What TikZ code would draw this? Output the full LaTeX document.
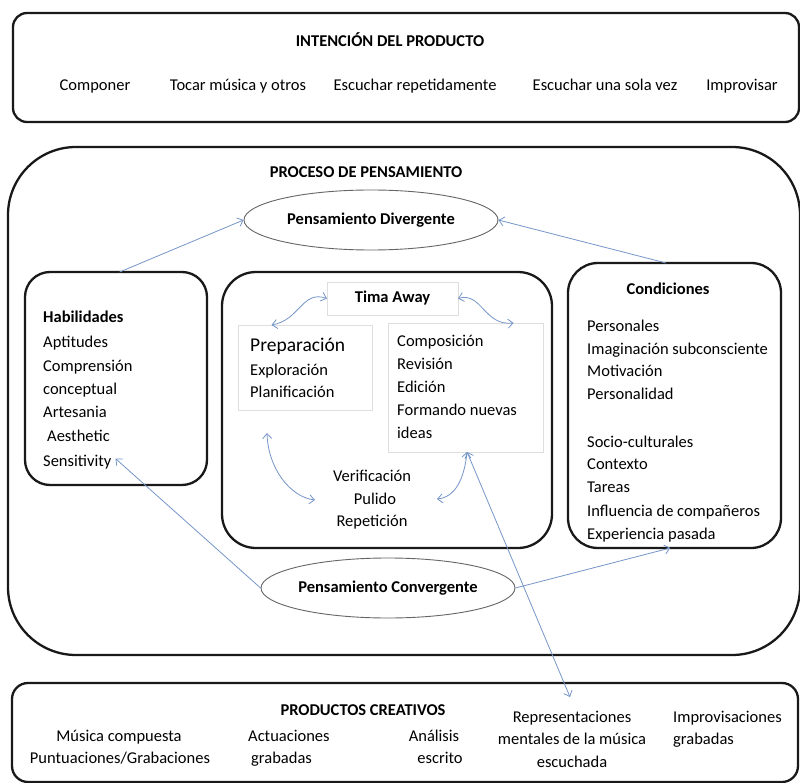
\documentclass[tikz,border=0pt]{standalone}
\usepackage{fontspec}
\setmainfont{Carlito}
\usetikzlibrary{arrows.meta,shapes.geometric,calc}
\definecolor{linkblue}{RGB}{118,150,200}
\definecolor{panelline}{RGB}{25,25,25}
\definecolor{thinbox}{RGB}{222,222,222}
\begin{document}
\begin{tikzpicture}[x=1pt,y=-1pt,
  panel/.style={draw=panelline, line width=2.3pt, rounded corners=#1, fill=white,
                inner sep=0pt, outer sep=0pt, anchor=north west},
  subbox/.style={draw=thinbox, line width=0.9pt, inner sep=0pt, outer sep=0pt, anchor=north west},
  body/.style={font=\fontsize{16.5}{23}\selectfont, inner sep=0pt},
  head/.style={font=\bfseries\fontsize{16.5}{23}\selectfont, inner sep=0pt},
  oval/.style={ellipse, draw=black!60, line width=0.9pt, fill=white, inner sep=0pt,
               minimum width=254pt, minimum height=60pt, font=\bfseries\fontsize{16.5}{23}\selectfont},
  link/.style={draw=linkblue, line width=0.8pt},
  onehead/.style={-{Straight Barb[length=5pt,width=9pt]}},
  twohead/.style={{Straight Barb[length=5pt,width=9pt]}-{Straight Barb[length=5pt,width=9pt]}}]

\useasboundingbox (0,0) rectangle (800,783);

% ---------- top band: product intention ----------
\node[panel=14pt, minimum width=786pt, minimum height=109pt] (intent) at (13,13) {};
\node[head, anchor=base] (intentT) at (390,47) {INTENCIÓN DEL PRODUCTO};
\node[body, anchor=base] (i1) at (95,91) {Componer};
\node[body, anchor=base] (i2) at (238,91) {Tocar música y otros};
\node[body, anchor=base] (i3) at (415,91) {Escuchar repetidamente};
\node[body, anchor=base] (i4) at (605,91) {Escuchar una sola vez};
\node[body, anchor=base] (i5) at (742,91) {Improvisar};

% ---------- middle band: thinking process ----------
\node[panel=68pt, minimum width=792pt, minimum height=508pt] (proc) at (8,147) {};
\node[head, anchor=base] (procT) at (366,178) {PROCESO DE PENSAMIENTO};

\node[panel=25pt, minimum width=182pt, minimum height=213pt] (hab) at (25,272) {};
\node[panel=34pt, minimum width=330pt, minimum height=276pt] (ctr) at (222,272) {};
\node[panel=30pt, minimum width=213pt, minimum height=285pt] (cond) at (568,263) {};

\node[oval] (div) at (371,220) {Pensamiento Divergente};
\node[oval] (conv) at (388,588) {Pensamiento Convergente};

% skills
\node[head, anchor=base west] (habT) at (43,323) {Habilidades};
\node[body, anchor=base west] (h1) at (43,348) {Aptitudes};
\node[body, anchor=base west] (h2) at (43,371) {Comprensión};
\node[body, anchor=base west] (h3) at (43,394) {conceptual};
\node[body, anchor=base west] (h4) at (43,417) {Artesania};
\node[body, anchor=base west] (h5) at (47,441) {Aesthetic};
\node[body, anchor=base west] (sens) at (43,466) {Sensitivity};

% stages of the creative process
\node[subbox, minimum width=131pt, minimum height=33pt, font=\bfseries\fontsize{16.5}{23}\selectfont] (tima) at (327,282) {Tima Away};
\node[subbox, minimum width=134pt, minimum height=85pt] (prep) at (238,325) {};
\node[subbox, minimum width=155pt, minimum height=129pt] (comp) at (388,323) {};

\node[body, anchor=base west, font=\fontsize{19.5}{23}\selectfont] (p1) at (250,352) {Preparación};
\node[body, anchor=base west] (p2) at (250,375) {Exploración};
\node[body, anchor=base west] (p3) at (250,397) {Planificación};

\node[body, anchor=base west] (c1) at (397,346) {Composición};
\node[body, anchor=base west] (c2) at (397,369) {Revisión};
\node[body, anchor=base west] (c3) at (397,392) {Edición};
\node[body, anchor=base west] (c4) at (397,415) {Formando nuevas};
\node[body, anchor=base west] (c5) at (397,438) {ideas};

\node[body, anchor=base] (v1) at (372,481) {Verificación};
\node[body, anchor=base] (v2) at (375,504) {Pulido};
\node[body, anchor=base] (v3) at (372,526) {Repetición};

% conditions
\node[head, anchor=base] (condT) at (668,295) {Condiciones};
\node[body, anchor=base west] (k1) at (587,331) {Personales};
\node[body, anchor=base west] (k2) at (587,354) {Imaginación subconsciente};
\node[body, anchor=base west] (k3) at (587,376) {Motivación};
\node[body, anchor=base west] (k4) at (587,399) {Personalidad};
\node[body, anchor=base west] (k5) at (587,447) {Socio-culturales};
\node[body, anchor=base west] (k6) at (587,469) {Contexto};
\node[body, anchor=base west] (k7) at (587,492) {Tareas};
\node[body, anchor=base west] (k8) at (587,516) {Influencia de compañeros};
\node[body, anchor=base west] (k9) at (587,539) {Experiencia pasada};

% ---------- bottom band: creative products ----------
\node[panel=16pt, minimum width=786pt, minimum height=99pt] (prod) at (12,683) {};
\node[head, anchor=base] (prodT) at (363,715) {PRODUCTOS CREATIVOS};
\node[body, anchor=base] (o1) at (119,741) {Música compuesta};
\node[body, anchor=base] (o2) at (120,763) {Puntuaciones/Grabaciones};
\node[body, anchor=base west] (o3) at (248,741) {Actuaciones};
\node[body, anchor=base west] (o4) at (251,763) {grabadas};
\node[body, anchor=base] (o5) at (434,741) {Análisis};
\node[body, anchor=base] (o6) at (440,763) {escrito};
\node[body, anchor=base] (o7) at (572,722) {Representaciones};
\node[body, anchor=base] (o8) at (572,744) {mentales de la música};
\node[body, anchor=base] (o9) at (572,767) {escuchada};
\node[body, anchor=base west] (o10) at (673,722) {Improvisaciones};
\node[body, anchor=base west] (o11) at (673,744) {grabadas};

% ---------- connectors ----------
\coordinate (habTop) at ($(hab.north west)!0.52!(hab.north east)$);
\coordinate (condTop) at ($(cond.north west)!0.46!(cond.north east)$);
\coordinate (condBot) at ($(cond.south west)!0.48!(cond.south east)$);
\coordinate (prepTop) at ($(prep.north west)!0.25!(prep.north east)$);
\coordinate (compTop) at ($(comp.north west)!0.81!(comp.north east)$);
\coordinate (compBot) at ($(comp.south west)!0.51!(comp.south east)$);
\coordinate (prepLow) at (267,433);
\coordinate (verL) at (315,500);
\coordinate (pulR) at (437,499);
\coordinate (prodIn) at (570,697);

\draw[link,onehead] (habTop) -- (div.west);
\draw[link,onehead] (condTop) -- (div.east);
\draw[link,onehead] (conv.west) -- ($(sens.east)+(4,-3)$);
\draw[link,onehead] (conv.east) -- (condBot);
\draw[link,twohead] (compBot) -- (prodIn);

\draw[link,twohead] (tima.west) .. controls (302,290) and (300,320) .. (prepTop);
\draw[link,twohead] (tima.east) .. controls (482,292) and (484,326) .. (compTop);
\draw[link,twohead] (prepLow) .. controls (268,468) and (290,497) .. (verL);
\draw[link,twohead] (compBot) .. controls (464,480) and (455,497) .. (pulR);
\end{tikzpicture}
\end{document}
